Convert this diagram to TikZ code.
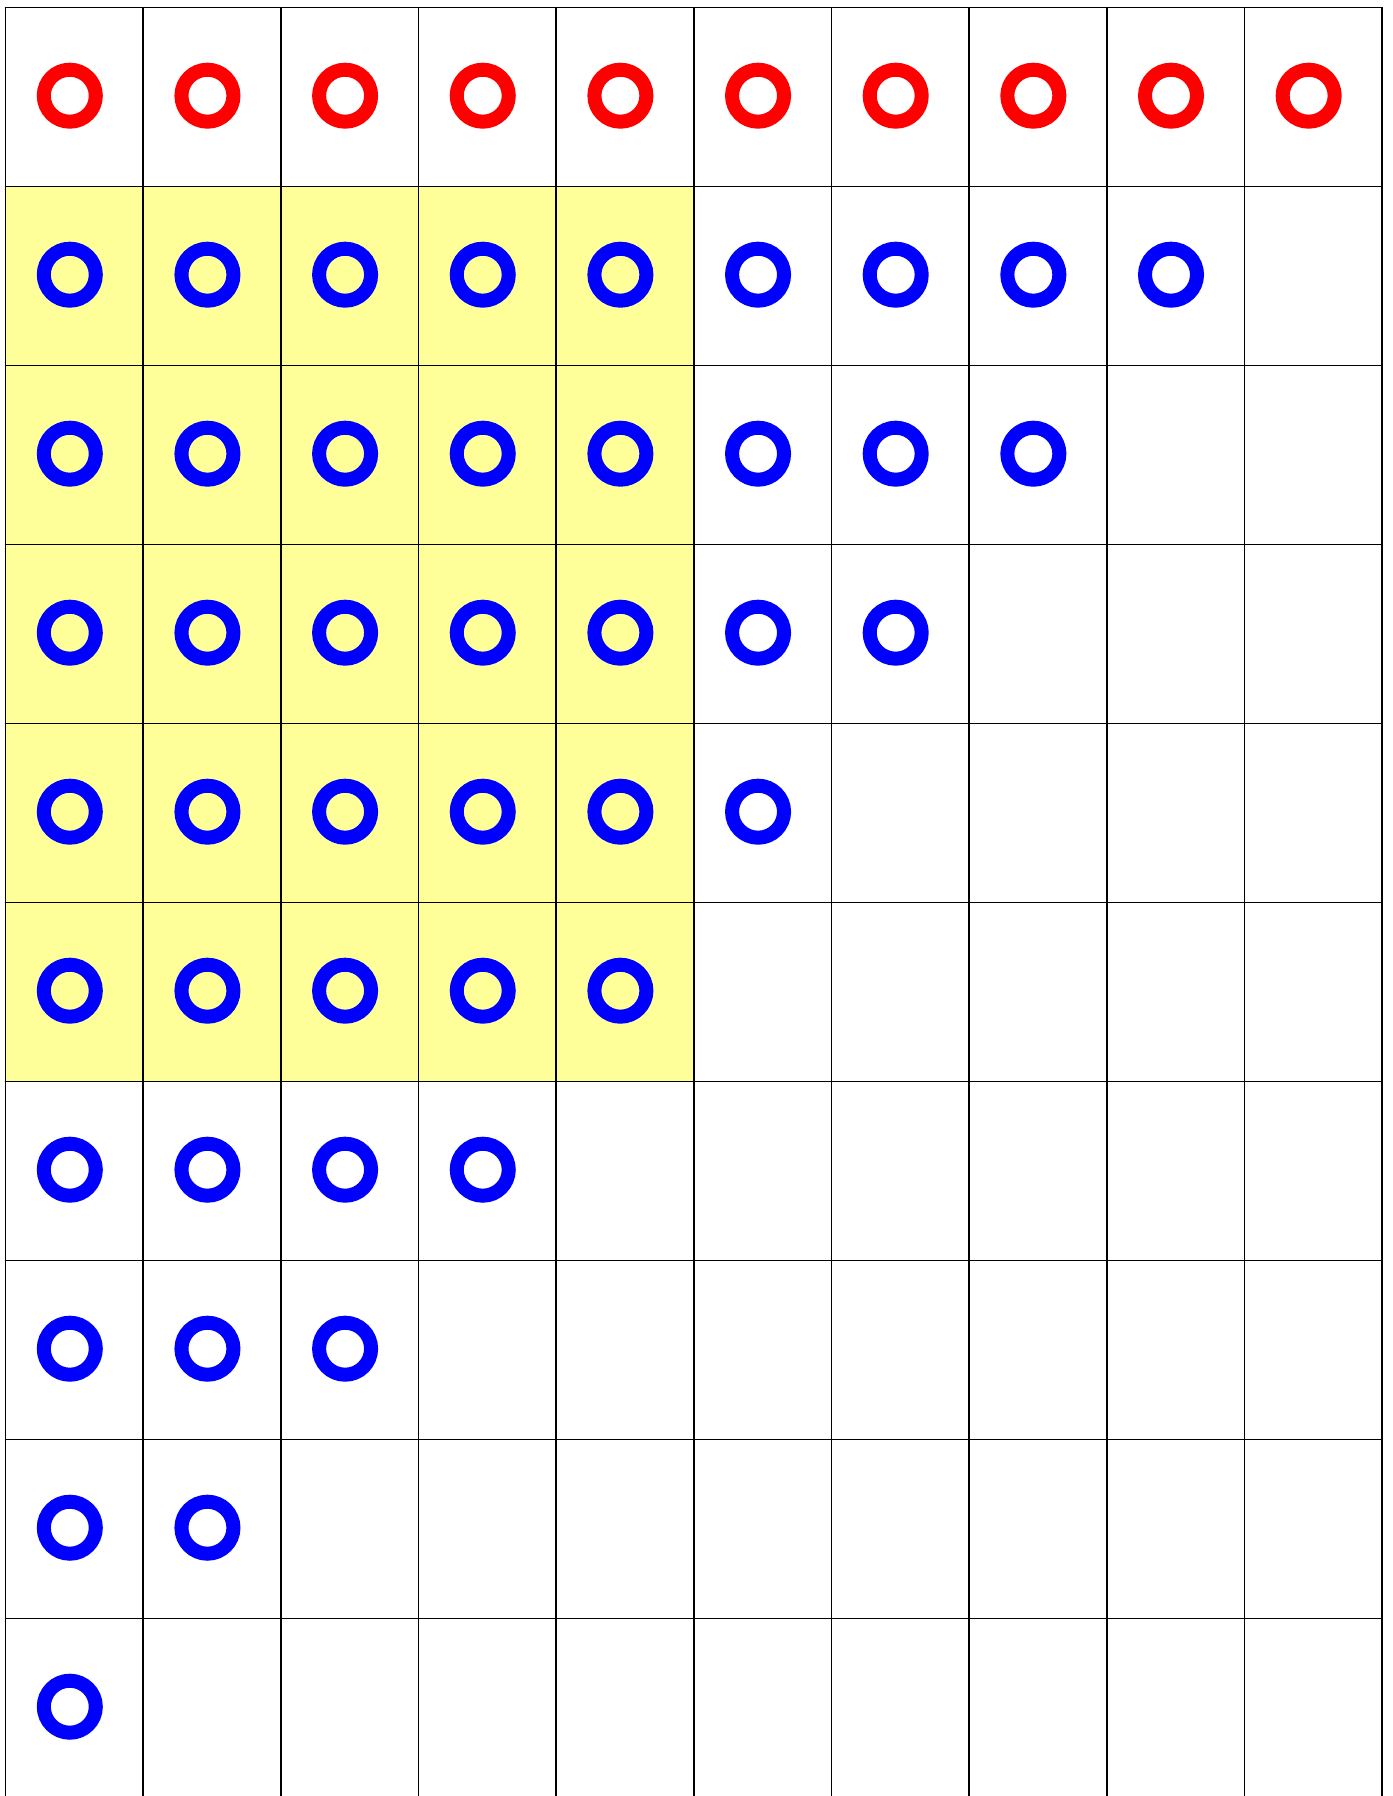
\documentclass[tikz,border=0pt]{standalone}
\definecolor{cellyellow}{RGB}{255,255,153}
\begin{document}
\begin{tikzpicture}[x=1pt,y=-1pt,
  gridline/.style={black,line width=1.6pt},
  ring/.style={circle,draw,line width=14pt,minimum size=52pt,inner sep=0pt},
  redring/.style={ring,draw=red},
  bluering/.style={ring,draw=blue}]
\useasboundingbox (0,0) rectangle (1392,1796);
\fill[white] (0,0) rectangle (1392,1796);
\fill[cellyellow] (5.5,186.5) rectangle (693.75,1081.5);
\foreach \i in {0,...,10}
  \draw[gridline] ({5.5+\i*137.65},7.5) -- ({5.5+\i*137.65},1796);
\foreach \j in {0,...,9}
  \draw[gridline] (4.7,{7.5+\j*179}) -- (1382.8,{7.5+\j*179});
\foreach \c in {0,...,9}
  \node[redring] (r0-\c) at ({69.8+\c*137.65},95.7) {};
\foreach \r in {1,...,9}{
  \pgfmathtruncatemacro\n{9-\r}
  \foreach \c in {0,...,\n}
    \node[bluering] (r\r-\c) at ({69.8+\c*137.65},{95.7+\r*179}) {};
}
\end{tikzpicture}
\end{document}
